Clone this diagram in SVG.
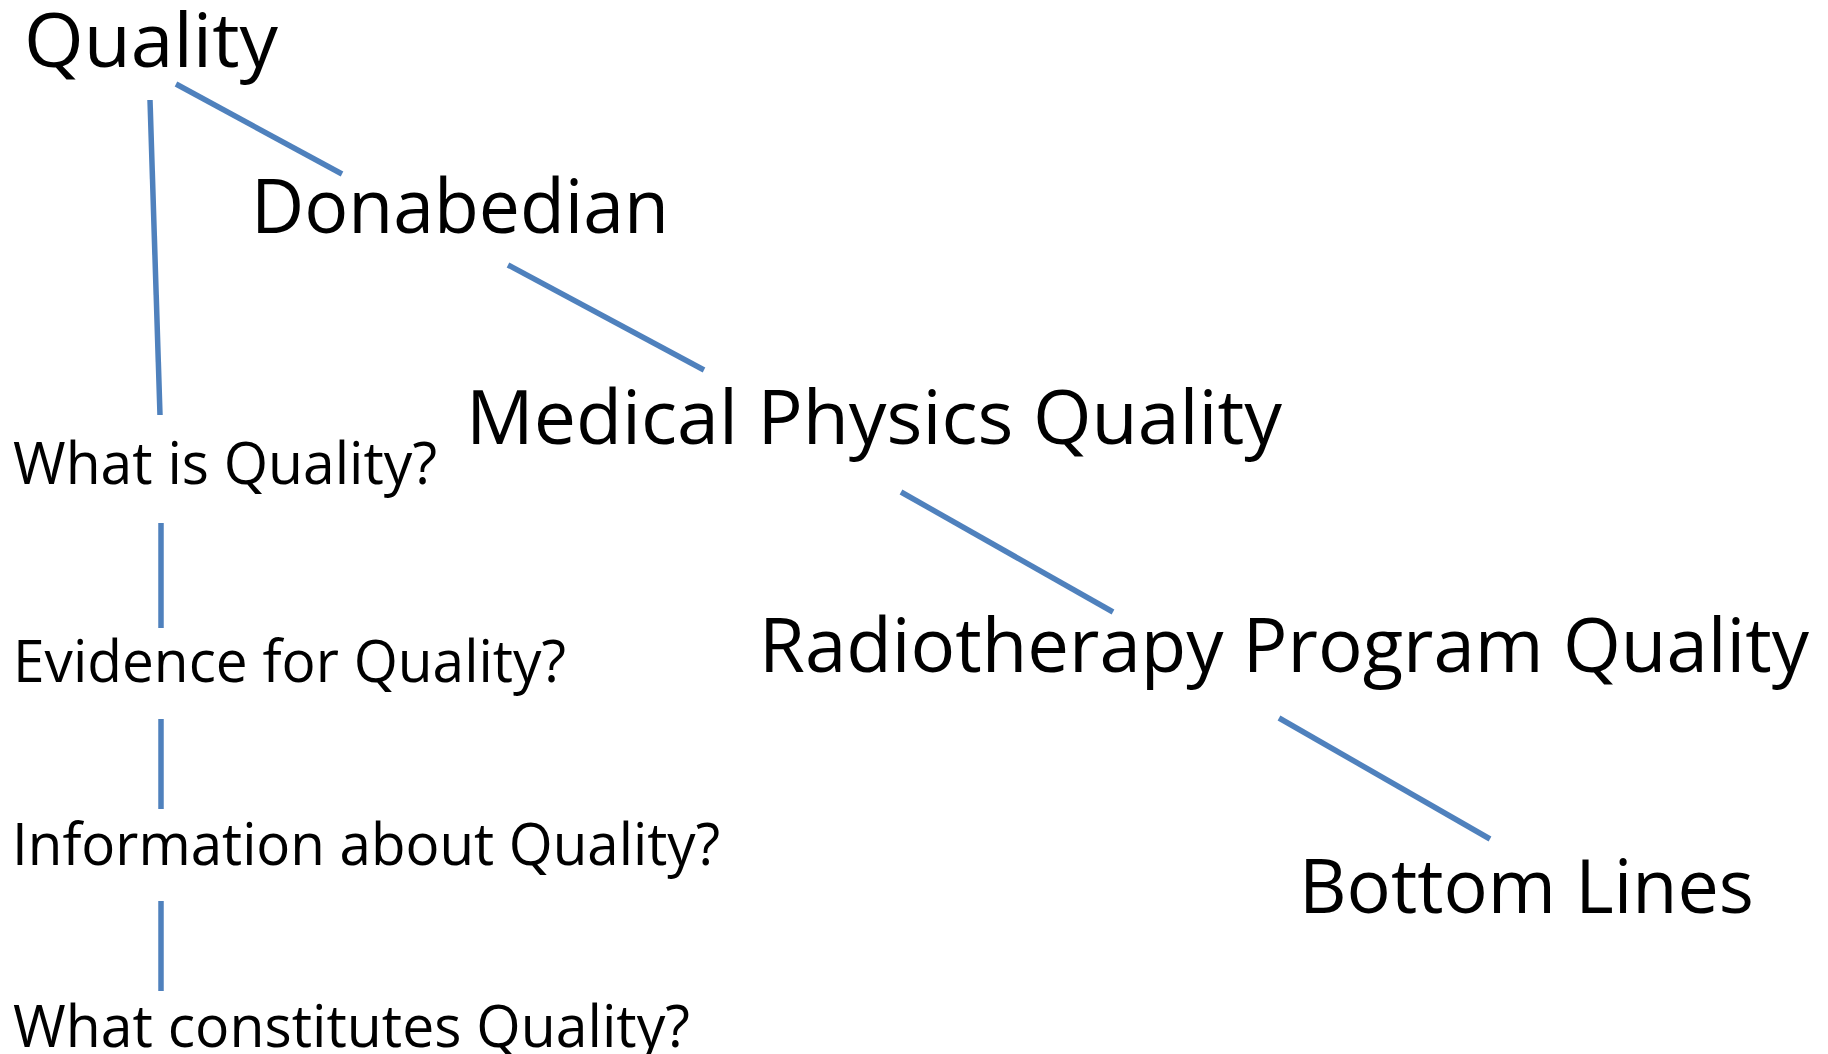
<svg xmlns="http://www.w3.org/2000/svg" width="1828" height="1054" viewBox="0 0 1828 1054">
  <style>
    .bg { fill: #ffffff; }
    text { font-family: "Open Sans", "Noto Sans", "Liberation Sans", sans-serif; fill: #000000; font-variant-ligatures: none; }
    .big { font-size: 75px; }
    .small { font-size: 58px; }
    .link { stroke: #4F81BD; stroke-width: 5.5; stroke-linecap: butt; fill: none; }
  </style>
  <rect class="bg" x="0" y="0" width="1828" height="1054"/>

  <!-- connectors -->
  <g id="connectors">
    <line class="link" x1="176" y1="84" x2="342" y2="174"/>
    <line class="link" x1="150" y1="100" x2="160" y2="415"/>
    <line class="link" x1="161" y1="523" x2="161" y2="628"/>
    <line class="link" x1="161" y1="719" x2="161" y2="809"/>
    <line class="link" x1="161" y1="901" x2="161" y2="991"/>
    <line class="link" x1="508" y1="265" x2="704" y2="370"/>
    <line class="link" x1="901" y1="492" x2="1113" y2="612"/>
    <line class="link" x1="1279" y1="718" x2="1490" y2="839"/>
  </g>

  <!-- main chain -->
  <g id="node-quality">
    <text class="big" x="24" y="67" textLength="254" lengthAdjust="spacingAndGlyphs">Quality</text>
  </g>
  <g id="node-donabedian">
    <text class="big" x="251" y="233" textLength="418" lengthAdjust="spacingAndGlyphs">Donabedian</text>
  </g>
  <g id="node-medical-physics-quality">
    <text class="big" x="466" y="444" textLength="816" lengthAdjust="spacingAndGlyphs">Medical Physics Quality</text>
  </g>
  <g id="node-radiotherapy-program-quality">
    <text class="big" x="759" y="672" textLength="1050" lengthAdjust="spacingAndGlyphs">Radiotherapy Program Quality</text>
  </g>
  <g id="node-bottom-lines">
    <text class="big" x="1299" y="913" textLength="455" lengthAdjust="spacingAndGlyphs">Bottom Lines</text>
  </g>

  <!-- question column -->
  <g id="node-what-is-quality">
    <text class="small" x="13" y="484" textLength="424" lengthAdjust="spacingAndGlyphs">What is Quality?</text>
  </g>
  <g id="node-evidence-for-quality">
    <text class="small" x="13" y="682" textLength="553" lengthAdjust="spacingAndGlyphs">Evidence for Quality?</text>
  </g>
  <g id="node-information-about-quality">
    <text class="small" x="12" y="865" textLength="708" lengthAdjust="spacingAndGlyphs">Information about Quality?</text>
  </g>
  <g id="node-what-constitutes-quality">
    <text class="small" x="13" y="1047" textLength="677" lengthAdjust="spacingAndGlyphs">What constitutes Quality?</text>
  </g>
</svg>
